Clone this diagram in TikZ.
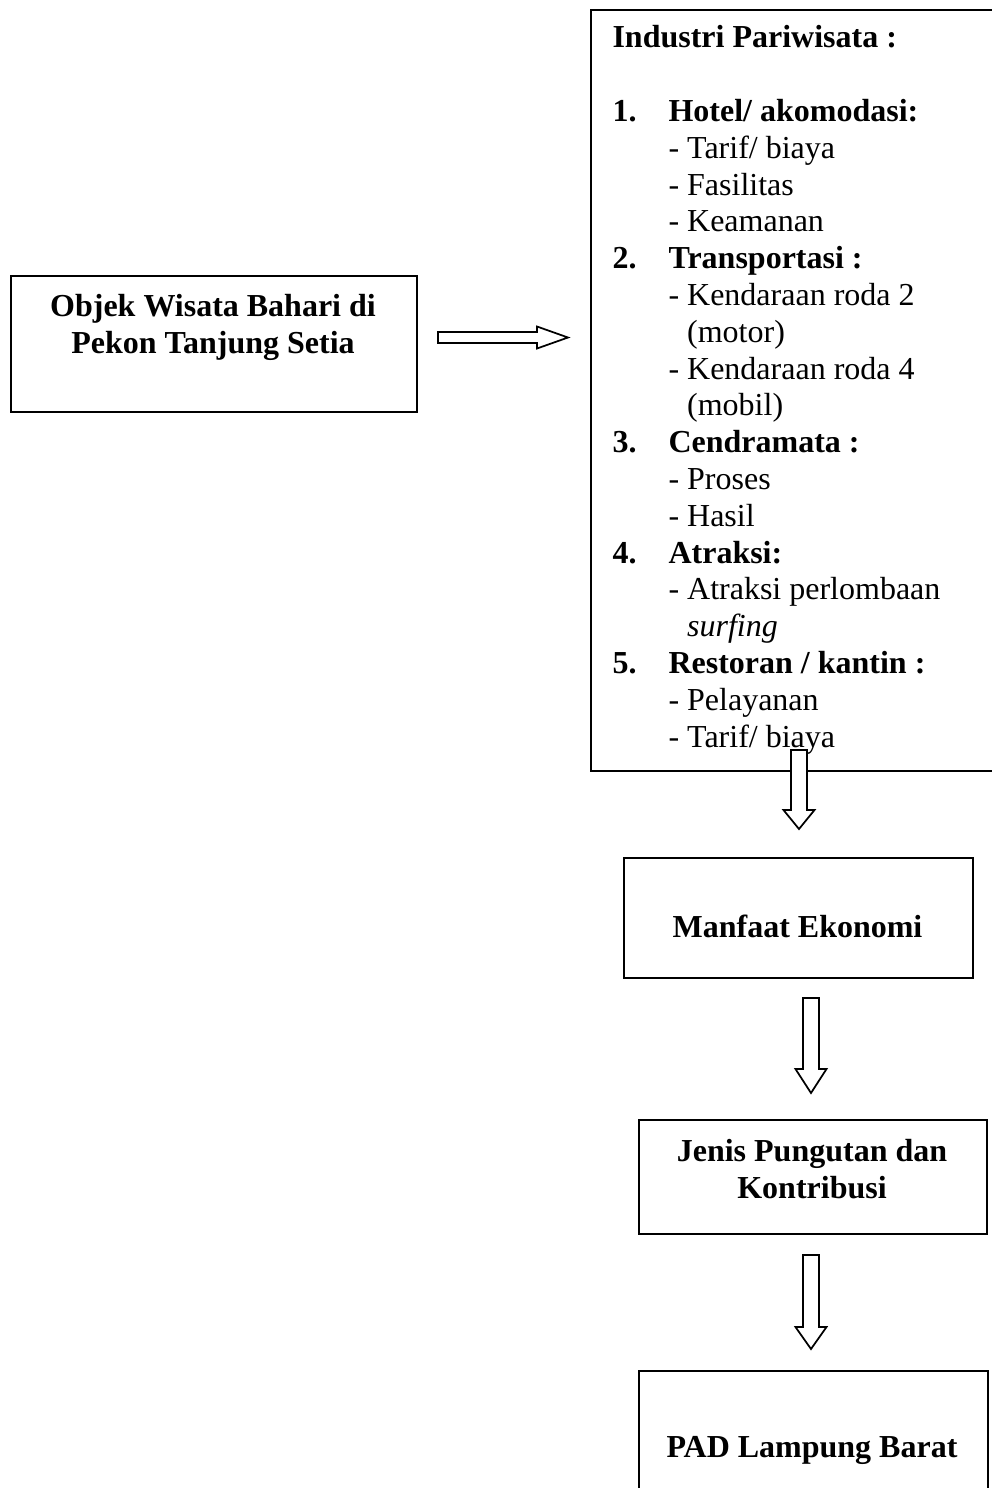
\documentclass[tikz,border=0pt]{standalone}
\usepackage{fontspec}
\setmainfont{Liberation Serif}
\usetikzlibrary{calc}
\newcommand{\pxu}{0.375pt}
\newcommand{\diagfont}{\fontsize{12pt}{13.8pt}\selectfont}
\newcommand{\numhd}[2]{\makebox[21pt][l]{\textbf{#1}}\textbf{#2}}
\newcommand{\subhd}{\hspace*{21pt}}
\newcommand{\hangon}{\hspace*{21pt}\phantom{- }}
\newcommand{\hollowright}[2]{%
\draw[blockarrow] ($(#1)+(0,-5.5)$) -- ($(#2)+(-31,-5.5)$) -- ($(#2)+(-31,-11)$)
 -- (#2) -- ($(#2)+(-31,11)$) -- ($(#2)+(-31,5.5)$) -- ($(#1)+(0,5.5)$) -- cycle;}
\newcommand{\hollowdown}[3]{%
\draw[blockarrow] ($(#1)+(-8,0)$) -- ($(#2)+(-8,-#3)$) -- ($(#2)+(-15.5,-#3)$)
 -- (#2) -- ($(#2)+(15.5,-#3)$) -- ($(#2)+(8,-#3)$) -- ($(#1)+(8,0)$) -- cycle;}
\tikzset{
  frame/.style={draw, line width=0.75pt, inner sep=0pt, anchor=north west},
  boxtext/.style={font=\diagfont\bfseries, align=center, anchor=base, inner sep=0pt},
  blockarrow/.style={draw, fill=white, line width=0.65pt, line join=miter}
}
\begin{document}
\begin{tikzpicture}[x=\pxu, y=-\pxu, every node/.style={font=\diagfont}]
\useasboundingbox (0,0) rectangle (992,1488);
% boxes
\node[frame, minimum width={406*\pxu}, minimum height={136*\pxu}] (objek) at (10,275) {};
\node[frame, minimum width={430*\pxu}, minimum height={761*\pxu}] (industribox) at (590,9) {};
\node[frame, minimum width={349*\pxu}, minimum height={120*\pxu}] (manfaat) at (623,857) {};
\node[frame, minimum width={348*\pxu}, minimum height={114*\pxu}] (pungutan) at (638,1119) {};
\node[frame, minimum width={349*\pxu}, minimum height={140*\pxu}] (pad) at (638,1370) {};
% texts (base = last line)
\node[boxtext] (objektext) at (213,353) {Objek Wisata Bahari di\\Pekon Tanjung Setia};
\node[boxtext] (manfaattext) at (797.5,937) {Manfaat Ekonomi};
\node[boxtext] (pungutantext) at (812,1198) {Jenis Pungutan dan\\Kontribusi};
\node[boxtext] (padtext) at (812,1457) {PAD Lampung Barat};
\node[align=left, anchor=base west, inner sep=0pt] (industri) at (612,747) {%
\textbf{Industri Pariwisata :}\\[13.8pt]
\numhd{1.}{Hotel/ akomodasi:}\\
\subhd- Tarif/ biaya\\
\subhd- Fasilitas\\
\subhd- Keamanan\\
\numhd{2.}{Transportasi :}\\
\subhd- Kendaraan roda 2\\
\hangon(motor)\\
\subhd- Kendaraan roda 4\\
\hangon(mobil)\\
\numhd{3.}{Cendramata :}\\
\subhd- Proses\\
\subhd- Hasil\\
\numhd{4.}{Atraksi:}\\
\subhd- Atraksi perlombaan\\
\hangon\textit{surfing}\\
\numhd{5.}{Restoran / kantin :}\\
\subhd- Pelayanan\\
\subhd- Tarif/ biaya};
% connectors
\coordinate (tailA) at (438,337.5);
\coordinate (tipA) at (568,337.5);
\coordinate (topB) at (799,750);
\coordinate (tipB) at (799,829);
\coordinate (topC) at (811,998);
\coordinate (tipC) at (811,1093);
\coordinate (topD) at (811,1255);
\coordinate (tipD) at (811,1349);
\hollowright{tailA}{tipA}
\hollowdown{topB}{tipB}{19}
\hollowdown{topC}{tipC}{24}
\hollowdown{topD}{tipD}{22}
\end{tikzpicture}
\end{document}
